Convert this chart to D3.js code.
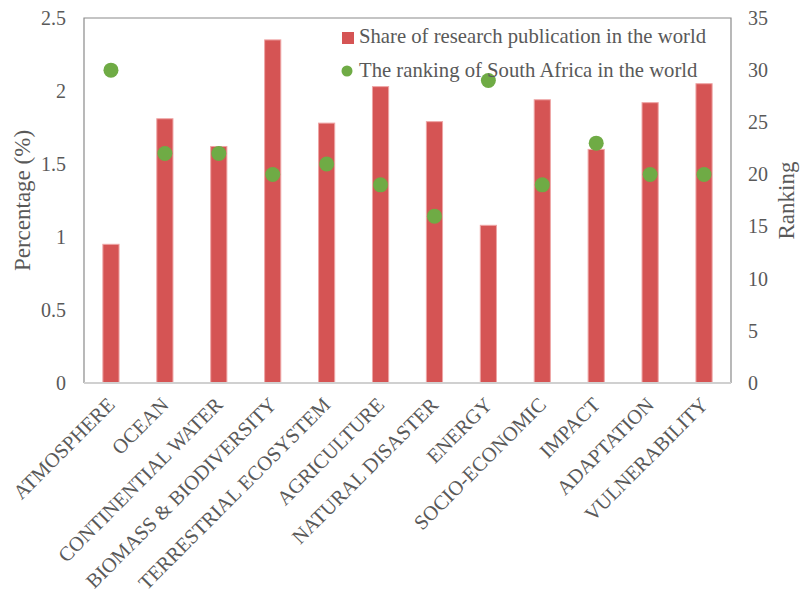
<!DOCTYPE html>
<html>
<head>
<meta charset="utf-8">
<script src="https://cdn.jsdelivr.net/npm/d3@7/dist/d3.min.js"></script>
<style>
  body { margin: 0; background: #fff; }
  svg text { font-family: "Liberation Serif", "Times New Roman", serif; fill: #595959; }
</style>
</head>
<body>
<svg id="chart" width="800" height="597"></svg>
<script>
// Research topics (x categories)
const categories = [
  "ATMOSPHERE", "OCEAN", "CONTINENTIAL WATER", "BIOMASS & BIODIVERSITY",
  "TERRESTRIAL ECOSYSTEM", "AGRICULTURE", "NATURAL DISASTER", "ENERGY",
  "SOCIO-ECONOMIC", "IMPACT", "ADAPTATION", "VULNERABILITY"
];
// Share of research publication in the world (%)
const shareValues = [0.95, 1.81, 1.62, 2.35, 1.78, 2.03, 1.79, 1.08, 1.94, 1.60, 1.92, 2.05];
// Ranking of South Africa in the world
const rankValues = [30, 22, 22, 20, 21, 19, 16, 29, 19, 23, 20, 20];
// Axis ticks
const leftTicks = [0, 0.5, 1, 1.5, 2, 2.5];
const leftTickLabels = ["0", "0.5", "1", "1.5", "2", "2.5"];
const rightTicks = [0, 5, 10, 15, 20, 25, 30, 35];
const legendLabels = ["Share of research publication in the world", "The ranking of South Africa in the world"];

const svg = d3.select("#chart");
const m = { left: 84, right: 731, top: 18, bottom: 383 };
const barColor = "#d55454", dotColor = "#6fab45";

const x = d3.scaleBand().domain(categories).range([m.left, m.right]).paddingInner(0).paddingOuter(0);
const yL = d3.scaleLinear().domain([0, 2.5]).range([m.bottom, m.top]);
const yR = d3.scaleLinear().domain([0, 35]).range([m.bottom, m.top]);
const barW = x.bandwidth() * 0.3;

// Bars
svg.append("g").selectAll("rect").data(shareValues).join("rect")
  .attr("x", (d, i) => x(categories[i]) + x.bandwidth() / 2 - barW / 2)
  .attr("y", d => yL(d))
  .attr("width", barW)
  .attr("height", d => yL(0) - yL(d))
  .attr("fill", barColor)
  .attr("stroke", "#eea5a5")
  .attr("stroke-width", 1);

// Plot frame: left, top, right in gray; baseline lighter
svg.append("path")
  .attr("d", `M${m.left},${m.bottom}V${m.top}H${m.right}V${m.bottom}`)
  .attr("fill", "none").attr("stroke", "#8a8a8a").attr("stroke-width", 1.2);
svg.append("line")
  .attr("x1", m.left).attr("x2", m.right).attr("y1", m.bottom).attr("y2", m.bottom)
  .attr("stroke", "#d0d0d0").attr("stroke-width", 2);

// Ranking dots
svg.append("g").selectAll("circle").data(rankValues).join("circle")
  .attr("cx", (d, i) => x(categories[i]) + x.bandwidth() / 2)
  .attr("cy", d => yR(d))
  .attr("r", 7.5)
  .attr("fill", dotColor);

// Left axis
const axL = d3.axisLeft(yL).tickValues(leftTicks).tickFormat((d, i) => leftTickLabels[i]).tickSize(0).tickPadding(18);
const gL = svg.append("g").attr("transform", `translate(${m.left},0)`).call(axL);
gL.select(".domain").remove();
gL.selectAll("text").attr("font-size", 20).style("font-family", "Liberation Serif").attr("fill", "#595959");

// Right axis
const axR = d3.axisRight(yR).tickValues(rightTicks).tickSize(0).tickPadding(17);
const gR = svg.append("g").attr("transform", `translate(${m.right},0)`).call(axR);
gR.select(".domain").remove();
gR.selectAll("text").attr("font-size", 20).style("font-family", "Liberation Serif").attr("fill", "#595959");

// Category labels, rotated
svg.append("g").selectAll("text").data(categories).join("text")
  .attr("transform", d => `translate(${x(d) + x.bandwidth() / 2 + 5},${m.bottom + 23}) rotate(-45)`)
  .attr("text-anchor", "end")
  .attr("font-size", 20.4)
  .text(d => d);

// Axis titles
svg.append("text")
  .attr("transform", `translate(30,${(m.top + m.bottom) / 2}) rotate(-90)`)
  .attr("text-anchor", "middle").attr("font-size", 23)
  .text("Percentage (%)");
svg.append("text")
  .attr("transform", `translate(794,${(m.top + m.bottom) / 2}) rotate(-90)`)
  .attr("text-anchor", "middle").attr("font-size", 23)
  .text("Ranking");

// Legend
const lg = svg.append("g");
lg.append("rect").attr("x", 342).attr("y", 32).attr("width", 12).attr("height", 12).attr("fill", barColor);
lg.append("text").attr("x", 359).attr("y", 43).attr("font-size", 20.7).text(legendLabels[0]);
lg.append("circle").attr("cx", 347).attr("cy", 71).attr("r", 5.5).attr("fill", dotColor);
lg.append("text").attr("x", 359).attr("y", 77).attr("font-size", 20.7).text(legendLabels[1]);
</script>
</body>
</html>
